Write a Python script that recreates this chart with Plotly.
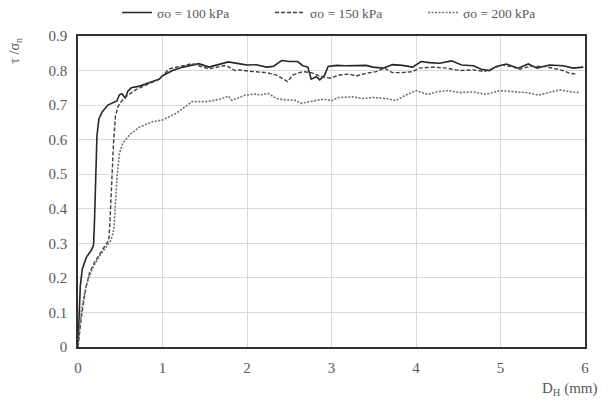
import plotly.graph_objects as go

# ---- data ----
series_names = ["σo = 100 kPa", "σo = 150 kPa", "σo = 200 kPa"]

x100 = [0, 0.012, 0.027, 0.05, 0.1, 0.157, 0.184, 0.196, 0.208, 0.224, 0.247, 0.286, 0.353, 0.43, 0.46,
        0.49, 0.52, 0.56, 0.59, 0.63, 0.73, 0.84, 0.96, 1.0, 1.12, 1.24, 1.35, 1.43, 1.55, 1.71, 1.78, 1.9,
        2.0, 2.11, 2.23, 2.31, 2.41, 2.5, 2.6, 2.66, 2.72, 2.76, 2.82, 2.86, 2.92, 2.96, 3.06, 3.17, 3.29,
        3.41, 3.49, 3.61, 3.72, 3.84, 3.96, 4.06, 4.16, 4.28, 4.42, 4.54, 4.68, 4.77, 4.87, 4.95, 5.07,
        5.21, 5.33, 5.43, 5.58, 5.74, 5.86, 5.98]
y100 = [0, 0.08, 0.176, 0.225, 0.26, 0.28, 0.295, 0.37, 0.51, 0.61, 0.66, 0.68, 0.70, 0.707, 0.712,
        0.73, 0.733, 0.72, 0.74, 0.75, 0.755, 0.765, 0.775, 0.785, 0.80, 0.81, 0.815, 0.82, 0.81, 0.82,
        0.825, 0.82, 0.816, 0.817, 0.81, 0.812, 0.829, 0.826, 0.826, 0.814, 0.81, 0.775, 0.782, 0.773,
        0.787, 0.812, 0.815, 0.814, 0.815, 0.815, 0.81, 0.807, 0.817, 0.815, 0.81, 0.826, 0.823, 0.821,
        0.828, 0.816, 0.814, 0.804, 0.80, 0.812, 0.819, 0.807, 0.819, 0.807, 0.816, 0.814, 0.807, 0.81]

x150 = [0, 0.008, 0.027, 0.059, 0.098, 0.137, 0.196, 0.255, 0.314, 0.365, 0.38, 0.40, 0.42, 0.443,
        0.47, 0.51, 0.57, 0.686, 0.843, 0.96, 1.08, 1.35, 1.55, 1.75, 1.86, 1.91, 2.07, 2.23, 2.35, 2.44,
        2.48, 2.54, 2.66, 2.76, 2.86, 2.98, 3.09, 3.21, 3.29, 3.41, 3.53, 3.63, 3.72, 3.84, 3.96, 4.04,
        4.2, 4.36, 4.52, 4.68, 4.81, 4.91, 5.03, 5.15, 5.23, 5.35, 5.51, 5.62, 5.74, 5.82, 5.9]
y150 = [0, 0.02, 0.06, 0.12, 0.176, 0.215, 0.245, 0.268, 0.29, 0.31, 0.37, 0.48, 0.59, 0.667,
        0.694, 0.71, 0.725, 0.745, 0.763, 0.775, 0.805, 0.82, 0.805, 0.815, 0.80, 0.802, 0.797, 0.794,
        0.787, 0.775, 0.768, 0.787, 0.797, 0.794, 0.784, 0.778, 0.787, 0.79, 0.784, 0.792, 0.797, 0.807,
        0.794, 0.794, 0.797, 0.807, 0.81, 0.807, 0.80, 0.802, 0.797, 0.807, 0.816, 0.81, 0.804, 0.812,
        0.812, 0.807, 0.80, 0.792, 0.79]

x200 = [0, 0.012, 0.039, 0.078, 0.118, 0.176, 0.255, 0.333, 0.392, 0.424, 0.443, 0.463, 0.49, 0.53,
        0.61, 0.725, 0.88, 1.0, 1.16, 1.35, 1.51, 1.67, 1.78, 1.82, 1.98, 2.1, 2.15, 2.25, 2.35, 2.46,
        2.56, 2.64, 2.74, 2.9, 3.0, 3.09, 3.25, 3.37, 3.49, 3.65, 3.76, 3.88, 4.0, 4.14, 4.26, 4.38,
        4.52, 4.68, 4.83, 4.99, 5.15, 5.31, 5.45, 5.58, 5.7, 5.82, 5.94]
y200 = [0, 0.04, 0.10, 0.157, 0.195, 0.23, 0.263, 0.29, 0.31, 0.34, 0.41, 0.494, 0.56, 0.59,
        0.614, 0.636, 0.652, 0.657, 0.676, 0.71, 0.71, 0.716, 0.726, 0.714, 0.729, 0.732, 0.729, 0.734,
        0.719, 0.715, 0.715, 0.705, 0.71, 0.717, 0.713, 0.722, 0.724, 0.719, 0.722, 0.719, 0.713, 0.729,
        0.742, 0.731, 0.739, 0.742, 0.736, 0.738, 0.731, 0.742, 0.739, 0.736, 0.729, 0.736, 0.744,
        0.739, 0.736]

x_ticks = [0, 1, 2, 3, 4, 5, 6]
y_ticks = [0, 0.1, 0.2, 0.3, 0.4, 0.5, 0.6, 0.7, 0.8, 0.9]
y_tick_text = ["0", "0.1", "0.2", "0.3", "0.4", "0.5", "0.6", "0.7", "0.8", "0.9"]

FONT = "Liberation Serif"
TXT = "#595959"

fig = go.Figure()
styles = [("solid", "#262626", 1.6), ("4px,2px", "#404040", 1.4), ("2px,1.5px", "#707070", 1.6)]
for name, xs, ys, (dash, col, w) in zip(series_names, [x100, x150, x200], [y100, y150, y200], styles):
    fig.add_trace(go.Scatter(x=xs, y=ys, mode="lines", name=name,
                             line=dict(color=col, width=w, dash=dash)))

fig.update_layout(
    width=614, height=401,
    margin=dict(l=78, r=29, t=36, b=54, autoexpand=False),
    paper_bgcolor="white", plot_bgcolor="white",
    font=dict(family=FONT, color=TXT, size=13),
    showlegend=True,
    legend=dict(orientation="h", x=0.077, xanchor="left", y=1.075, yanchor="middle",
                font=dict(family=FONT, size=13.5, color=TXT),
                entrywidth=108, entrywidthmode="pixels", itemwidth=30,
                bgcolor="rgba(0,0,0,0)"),
)

fig.update_xaxes(range=[0, 6], tickvals=x_ticks, showgrid=True, gridcolor="#d9d9d9", gridwidth=1,
                 zeroline=False, showline=True, linecolor="#303030", linewidth=1.5, mirror=True,
                 ticks="", automargin=False, ticklabelstandoff=6,
                 tickfont=dict(family=FONT, size=15, color=TXT))
fig.update_yaxes(range=[0, 0.9], tickvals=y_ticks, ticktext=y_tick_text, showgrid=True,
                 gridcolor="#d9d9d9", gridwidth=1, zeroline=False, showline=True,
                 linecolor="#303030", linewidth=1.5, mirror=True, ticks="", automargin=False,
                 ticklabelstandoff=6, tickfont=dict(family=FONT, size=15, color=TXT))

fig.add_annotation(text="τ /σ<sub>n</sub>", xref="paper", yref="paper", x=-0.125, y=1.0,
                   xanchor="center", yanchor="top", textangle=-90, showarrow=False,
                   font=dict(family=FONT, size=14, color=TXT))
fig.add_annotation(text="D<sub>H</sub> (mm)", xref="paper", yref="paper", x=1.03, y=-0.1,
                   xanchor="right", yanchor="top", showarrow=False,
                   font=dict(family=FONT, size=15, color=TXT))

fig.write_html("out.html", config={"displayModeBar": False},
               post_script="document.body.style.margin='0px';document.body.style.overflow='hidden';")
